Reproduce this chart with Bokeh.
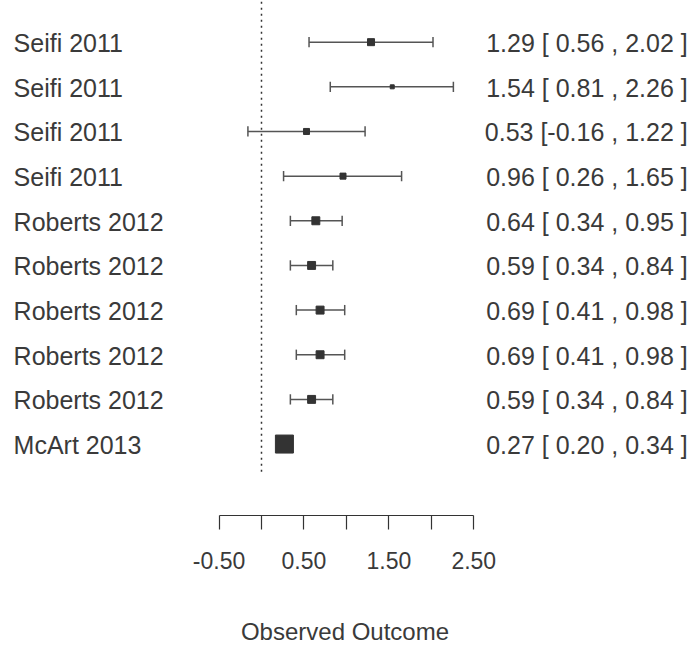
from bokeh.plotting import figure
from bokeh.models import Range1d, LinearAxis, FixedTicker, CustomJSTickFormatter, ColumnDataSource
from bokeh.core.properties import value
from bokeh.embed import file_html
from bokeh.resources import INLINE

# ---- data ----
studies = ["Seifi 2011", "Seifi 2011", "Seifi 2011", "Seifi 2011",
           "Roberts 2012", "Roberts 2012", "Roberts 2012", "Roberts 2012", "Roberts 2012",
           "McArt 2013"]
estimates = [1.29, 1.54, 0.53, 0.96, 0.64, 0.59, 0.69, 0.69, 0.59, 0.27]
ci_lower = [0.56, 0.81, -0.16, 0.26, 0.34, 0.34, 0.41, 0.41, 0.34, 0.20]
ci_upper = [2.02, 2.26, 1.22, 1.65, 0.95, 0.84, 0.98, 0.98, 0.84, 0.34]
weights = [9.4, 1.0, 6.6, 6.6, 12.0, 12.0, 12.0, 12.0, 12.0, 40.0]
axis_ticks = [-0.5, 0.0, 0.5, 1.0, 1.5, 2.0, 2.5]
tick_labels = ["-0.50", "0.50", "1.50", "2.50"]
labeled_ticks = [-0.5, 0.5, 1.5, 2.5]
xlabel = "Observed Outcome"

n = len(studies)
rows = [n - i for i in range(n)]  # top row = n, bottom row = 1

wmin, wmax = min(weights), max(weights)
sizes = [4 + (w - wmin) / (wmax - wmin) * 14 for w in weights]
annot = [f"{e:.2f} [{l:5.2f} ,{u:5.2f} ]" for e, l, u in zip(estimates, ci_lower, ci_upper)]

src = ColumnDataSource(dict(study=studies, est=estimates, lb=ci_lower, ub=ci_upper,
                            row=rows, size=sizes, annot=annot,
                            cap_lo=[r - 0.115 for r in rows], cap_hi=[r + 0.115 for r in rows]))

FONT = "Liberation Sans"
TXT = "#3a3a3a"
LINE = "#555555"

p = figure(width=689, height=647, output_backend="svg", toolbar_location=None,
           x_range=Range1d(-3.074, 5.041), y_range=Range1d(-0.6, 10.933),
           min_border_left=0, min_border_right=0, min_border_top=0, min_border_bottom=128,
           x_axis_location=None, y_axis_location=None)
p.outline_line_color = None
p.grid.visible = False
p.background_fill_color = "white"
p.border_fill_color = "white"

# reference (null effect) dotted line
p.segment(x0=[0], y0=[0.38], x1=[0], y1=[11.5], line_color="#333333", line_width=1.5,
          line_dash="2 4")

# CI lines and caps
p.segment(x0="lb", y0="row", x1="ub", y1="row", source=src, line_color=LINE, line_width=1.5)
p.segment(x0="lb", y0="cap_lo", x1="lb", y1="cap_hi", source=src, line_color=LINE, line_width=1.5)
p.segment(x0="ub", y0="cap_lo", x1="ub", y1="cap_hi", source=src, line_color=LINE, line_width=1.5)

# squares
p.scatter(x="est", y="row", size="size", marker="square", source=src,
          fill_color="#333333", line_color="#333333")

# study labels and annotations
p.text(x=-2.92, y="row", text="study", source=src, text_font=value(FONT),
       text_font_size="25px", text_color=TXT, text_align="left", text_baseline="middle",
       y_offset=1)
p.text(x=5.02, y="row", text="annot", source=src, text_font=value(FONT),
       text_font_size="25px", text_color=TXT, text_align="right", text_baseline="middle",
       y_offset=1)

# x axis
ax = LinearAxis(ticker=FixedTicker(ticks=axis_ticks), bounds=(-0.5, 2.5))
ax.formatter = CustomJSTickFormatter(args=dict(vals=labeled_ticks, labs=tick_labels), code="""
    for (let i = 0; i < vals.length; i++) {
        if (Math.abs(tick - vals[i]) < 1e-9) { return labs[i]; }
    }
    return "";
""")
ax.axis_line_color = "#333333"
ax.axis_line_width = 1.2
ax.major_tick_line_color = "#333333"
ax.major_tick_line_width = 1.2
ax.major_tick_in = 0
ax.major_tick_out = 14
ax.minor_tick_line_color = None
ax.major_label_text_font = FONT
ax.major_label_text_font_size = "23px"
ax.major_label_text_color = TXT
ax.major_label_standoff = 22
ax.axis_label = xlabel
ax.axis_label_text_font = FONT
ax.axis_label_text_font_size = "24px"
ax.axis_label_text_font_style = "normal"
ax.axis_label_text_color = TXT
ax.axis_label_standoff = 46
p.add_layout(ax, "below")

open("out.html", "w").write(file_html(p, INLINE))
